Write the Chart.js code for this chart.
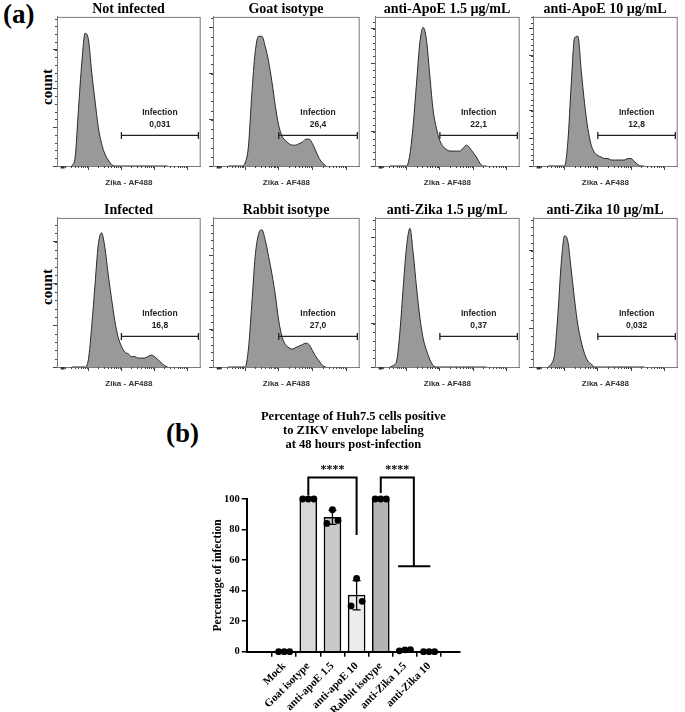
<!DOCTYPE html>
<html>
<head>
<meta charset="utf-8">
<script src="https://cdn.jsdelivr.net/npm/chart.js@4.4.1/dist/chart.umd.min.js"></script>
<style>
  body { margin: 0; background: #fff; width: 685px; height: 712px; position: relative; overflow: hidden; font-family: "Liberation Serif", serif; }
  canvas { position: absolute; }
  .lbl { position: absolute; font-weight: bold; color: #000; white-space: nowrap; line-height: 1; }
  .rot { transform: translate(-50%, -50%) rotate(-90deg); }
</style>
</head>
<body>
<div class="lbl" style="left:3px;top:1px;font-size:27px">(a)</div>
<div class="lbl" style="left:166px;top:420px;font-size:27px">(b)</div>
<div class="lbl rot" style="left:47px;top:87px;font-size:15px">count</div>
<div class="lbl rot" style="left:47px;top:287px;font-size:15px">count</div>

<script>
// ---- (a) flow cytometry histograms ----
// fluorescence (decades, biexponential axis) at which each histogram was read
const xGrid = [-0.5, -0.4, -0.3, -0.2, -0.1, 0, 0.1, 0.2, 0.3, 0.4, 0.5, 0.6, 0.7, 0.8, 0.9,
               1.0, 1.1, 1.2, 1.3, 1.4, 1.5, 1.6, 1.7, 1.8, 1.9, 2.0, 2.1, 2.2, 2.3, 2.4];

// counts, as % of the panel height
const notInfected   = [0, 6, 38, 69, 89, 85, 63, 44, 26, 15, 8, 4, 1, 0, 0, 0, 0, 0, 0, 0, 0, 0, 0, 0, 0, 0, 0, 0, 0, 0];
const goatIsotype   = [0, 0, 0, 0, 0, 2, 13, 48, 76, 87, 87, 80, 70, 56, 40, 27, 20, 17, 15, 14, 14, 15, 16, 18, 18, 15, 10, 5, 2, 0];
const antiApoE15    = [0, 0, 0, 0, 0, 0, 8, 28, 56, 83, 93, 84, 60, 37, 25, 17, 13, 11, 10, 10, 10, 10, 12, 14, 12, 9, 6, 2, 0, 0];
const antiApoE10    = [0, 0, 0, 0, 0, 0, 17, 55, 86, 87, 64, 42, 25, 14, 9, 7, 6, 5, 5, 4, 4, 4, 4, 4, 5, 5, 3, 1, 0, 0];
const infected      = [0, 0, 0, 0, 0, 5, 27, 55, 82, 90, 80, 62, 46, 31, 20, 14, 10, 9, 7, 7, 6, 6, 6, 7, 8, 7, 5, 3, 1, 0];
const rabbitIsotype = [0, 0, 0, 0, 0, 0, 12, 42, 74, 89, 92, 85, 74, 62, 48, 31, 20, 15, 13, 12, 13, 14, 15, 16, 15, 11, 7, 4, 1, 0];
const antiZika15    = [0, 1, 4, 24, 54, 81, 93, 76, 53, 33, 19, 11, 5, 1, 0, 0, 0, 0, 0, 0, 0, 0, 0, 0, 0, 0, 0, 0, 0, 0];
const antiZika10    = [0, 2, 9, 36, 70, 88, 84, 65, 45, 28, 17, 9, 4, 2, 0, 0, 0, 0, 0, 0, 0, 0, 0, 0, 0, 0, 0, 0, 0, 0];

const histSeries = [notInfected, goatIsotype, antiApoE15, antiApoE10, infected, rabbitIsotype, antiZika15, antiZika10];
const panelTitles = ['Not infected', 'Goat isotype', 'anti-ApoE 1.5 µg/mL', 'anti-ApoE 10 µg/mL',
                     'Infected', 'Rabbit isotype', 'anti-Zika 1.5 µg/mL', 'anti-Zika 10 µg/mL'];
const infectionValues = ['0,031', '26,4', '22,1', '12,8', '16,8', '27,0', '0,37', '0,032'];
const yMajorStep = [26, 31, 23, 18.5, 28, 25, 29, 26];
const xMajorTicks = [0, 1, 2, 3];
const gateRange = [1.0, 3.33];
const gateLevel = 20.5;

// ---- (b) bar chart ----
const categories = ['Mock', 'Goat isotype', 'anti-apoE 1.5', 'anti-apoE 10', 'Rabbit isotype', 'anti-Zika 1.5', 'anti-Zika 10'];
const barValues = [0, 100, 88, 37, 100, 1, 0];
const barSD = [0, 0, 4.6, 9.6, 0, 0.4, 0];
const replicates = [
  [0, 0, 0],
  [100, 100, 100],
  [84, 93, 86],
  [30, 48, 33],
  [100, 100, 100],
  [0.6, 1.2, 1.4],
  [0, 0, 0]
];
const replicateOffset = [-0.23, 0, 0.23];
const barColors = ['#d9d9d9', '#d9d9d9', '#c9c9c9', '#ececec', '#b4b4b4', '#d9d9d9', '#d9d9d9'];
const yTicksB = [0, 20, 40, 60, 80, 100];
const sigBrackets = [
  { from: 1, to: 3, top: 114, fromEnd: 102.5, toEnd: 76.5, label: '****' },
  { from: 4, to: 5.37, top: 114, fromEnd: 104, toEnd: 56, label: '****', base: [4.72, 6.05] }
];

const serif = '"Liberation Serif", "Times New Roman", serif';
const sans = '"Liberation Sans", Arial, sans-serif';

// small log ticks between decades
const xMinor = [];
for (let d = -1; d <= 2; d++) {
  for (let k = 2; k <= 9; k++) xMinor.push(d + Math.log10(k));
}

const histDecor = {
  id: 'histDecor',
  afterDraw(chart, args, opts) {
    const { ctx, chartArea: a, scales: { x, y } } = chart;
    ctx.save();
    ctx.strokeStyle = '#7a7a7a';
    ctx.lineWidth = 1;
    ctx.strokeRect(a.left + 0.5, a.top + 0.5, a.right - a.left - 1, a.bottom - a.top);
    ctx.strokeStyle = '#444';
    ctx.beginPath();
    const step = opts.step / 5;
    for (let v = step; v < 100; v += step) {
      const py = Math.round(y.getPixelForValue(v)) + 0.5;
      ctx.moveTo(a.left - 2, py);
      ctx.lineTo(a.left, py);
    }
    xMinor.forEach(v => {
      const px = Math.round(x.getPixelForValue(v)) + 0.5;
      ctx.moveTo(px, a.bottom);
      ctx.lineTo(px, a.bottom + 2);
    });
    ctx.stroke();
    // little block near the origin of the biexponential axis
    ctx.fillStyle = '#333';
    ctx.fillRect(x.getPixelForValue(-0.84), a.bottom, x.getPixelForValue(-0.72) - x.getPixelForValue(-0.84), 2.5);
    // gate label
    const cx = x.getPixelForValue((gateRange[0] + gateRange[1]) / 2);
    ctx.fillStyle = '#222';
    ctx.font = 'bold 8.5px ' + sans;
    ctx.textAlign = 'center';
    ctx.textBaseline = 'middle';
    ctx.fillText('Infection', cx, y.getPixelForValue(36));
    ctx.fillText(opts.value, cx, y.getPixelForValue(28));
    ctx.restore();
  }
};

const boxLeft = [57, 213, 375, 533];
const boxWidth = [147, 150, 148, 148];
const rowTop = [0, 201];

histSeries.forEach((series, i) => {
  const row = Math.floor(i / 4), col = i % 4;
  const cv = document.createElement('canvas');
  cv.width = boxWidth[col] + 8;
  cv.height = 190;
  cv.style.left = (boxLeft[col] - 6) + 'px';
  cv.style.top = rowTop[row] + 'px';
  document.body.appendChild(cv);

  new Chart(cv.getContext('2d'), {
    type: 'line',
    data: {
      datasets: [
        {
          data: [{ x: gateRange[0], y: gateLevel }, { x: gateRange[1], y: gateLevel }],
          borderColor: '#222',
          borderWidth: 1.3,
          pointStyle: 'line',
          rotation: 90,
          pointRadius: 3.5,
          pointBorderWidth: 1.3,
          pointBorderColor: '#222',
          fill: false
        },
        {
          data: xGrid.map((x, k) => ({ x, y: series[k] })),
          borderColor: '#2a2a2a',
          borderWidth: 1,
          backgroundColor: '#999999',
          fill: 'origin',
          pointRadius: 0,
          cubicInterpolationMode: 'monotone'
        }
      ]
    },
    options: {
      responsive: false,
      animation: false,
      layout: { padding: { left: 2, right: 2, top: 0, bottom: 0 } },
      plugins: {
        legend: { display: false },
        tooltip: { enabled: false },
        title: {
          display: true,
          text: panelTitles[i],
          color: '#000',
          font: { family: serif, size: 14, weight: 'bold', lineHeight: 1.1 },
          padding: { top: 1.5, bottom: 0 }
        },
        histDecor: { step: yMajorStep[i], value: infectionValues[i] }
      },
      scales: {
        x: {
          type: 'linear',
          min: -0.95,
          max: 3.4,
          afterBuildTicks: s => { s.ticks = xMajorTicks.map(v => ({ value: v })); },
          afterFit: s => { s.height = 24; },
          ticks: { display: false },
          grid: { drawOnChartArea: false, tickLength: 4, color: '#444' },
          border: { color: '#7a7a7a' },
          title: {
            display: true,
            text: 'Zika - AF488',
            color: '#333',
            font: { family: sans, size: 8, weight: 'bold', lineHeight: 1.2 },
            padding: { top: 8, bottom: 2 }
          }
        },
        y: {
          min: 0,
          max: 100,
          afterBuildTicks: s => {
            const t = [];
            for (let v = 0; v < 100; v += yMajorStep[i]) t.push({ value: v });
            s.ticks = t;
          },
          afterFit: s => { s.width = 4; },
          ticks: { display: false },
          grid: { drawOnChartArea: false, tickLength: 4, color: '#444' },
          border: { color: '#7a7a7a' }
        }
      }
    },
    plugins: [histDecor]
  });
});

// ---- (b) ----
const barDecor = {
  id: 'barDecor',
  afterDatasetDraw(chart, args) {
    if (args.index !== 1) return;
    const { ctx, scales: { x, y } } = chart;
    ctx.save();
    ctx.strokeStyle = '#000';
    ctx.lineWidth = 1.3;
    barValues.forEach((m, i) => {
      const sd = barSD[i];
      if (!sd) return;
      const px = x.getPixelForValue(i);
      const t = y.getPixelForValue(m + sd), b = y.getPixelForValue(m - sd);
      ctx.beginPath();
      ctx.moveTo(px, t); ctx.lineTo(px, b);
      ctx.moveTo(px - 4, t); ctx.lineTo(px + 4, t);
      ctx.moveTo(px - 4, b); ctx.lineTo(px + 4, b);
      ctx.stroke();
    });
    ctx.restore();
  },
  afterDraw(chart) {
    const { ctx, scales: { x, y } } = chart;
    ctx.save();
    ctx.strokeStyle = '#000';
    ctx.fillStyle = '#000';
    ctx.lineWidth = 2;
    sigBrackets.forEach(b => {
      const x1 = x.getPixelForValue(b.from), x2 = x.getPixelForValue(b.to);
      const yt = y.getPixelForValue(b.top);
      ctx.beginPath();
      ctx.moveTo(x1, y.getPixelForValue(b.fromEnd));
      ctx.lineTo(x1, yt);
      ctx.lineTo(x2, yt);
      ctx.lineTo(x2, y.getPixelForValue(b.toEnd));
      if (b.base) {
        const yb = y.getPixelForValue(b.toEnd);
        ctx.moveTo(x.getPixelForValue(b.base[0]), yb);
        ctx.lineTo(x.getPixelForValue(b.base[1]), yb);
      }
      ctx.stroke();
      ctx.font = 'bold 12px ' + serif;
      ctx.textAlign = 'center';
      ctx.textBaseline = 'middle';
      ctx.fillText(b.label, (x1 + x2) / 2, yt - 8);
    });
    ctx.restore();
  }
};

const cvb = document.createElement('canvas');
cvb.width = 290;
cvb.height = 317;
cvb.style.left = '180px';
cvb.style.top = '395px';
document.body.appendChild(cvb);

const dots = [];
replicates.forEach((r, i) => r.forEach((v, k) => dots.push({ x: i + replicateOffset[k], y: v })));

new Chart(cvb.getContext('2d'), {
  type: 'bar',
  data: {
    datasets: [
      {
        type: 'scatter',
        data: dots,
        clip: false,
        pointRadius: 3.4,
        pointBackgroundColor: '#000',
        pointBorderColor: '#000',
        pointBorderWidth: 0
      },
      {
        type: 'bar',
        data: barValues.map((v, i) => ({ x: i, y: v })),
        backgroundColor: barColors,
        borderColor: '#000',
        borderWidth: 1.5,
        borderSkipped: 'bottom',
        barThickness: 17
      }
    ]
  },
  options: {
    responsive: false,
    animation: false,
    layout: { padding: { left: 0, right: 10, top: 0, bottom: 0 } },
    plugins: {
      legend: { display: false },
      tooltip: { enabled: false },
      title: {
        display: true,
        fullSize: false,
        text: ['Percentage of Huh7.5 cells positive', 'to ZIKV envelope labeling', 'at 48 hours post-infection'],
        color: '#000',
        font: { family: serif, size: 12.5, weight: 'bold', lineHeight: 1.12 },
        padding: { top: 15, bottom: 47 }
      }
    },
    scales: {
      x: {
        type: 'linear',
        min: -0.92,
        max: 6.65,
        afterBuildTicks: s => { s.ticks = categories.map((c, i) => ({ value: i })); },
        afterFit: s => { s.height = 60.3; },
        ticks: {
          callback: v => categories[v],
          color: '#000',
          font: { family: serif, size: 11, weight: 'bold' },
          minRotation: 45,
          maxRotation: 45,
          padding: 3
        },
        grid: { drawOnChartArea: false, tickLength: 5, color: '#000', lineWidth: 1.5 },
        border: { color: '#000', width: 2 }
      },
      y: {
        min: 0,
        max: 100,
        afterBuildTicks: s => { s.ticks = yTicksB.map(v => ({ value: v })); },
        afterFit: s => { s.width = 66.7; },
        ticks: {
          color: '#000',
          font: { family: serif, size: 10.5, weight: 'bold' },
          padding: 2
        },
        grid: { drawOnChartArea: false, tickLength: 5, color: '#000', lineWidth: 1.5 },
        border: { color: '#000', width: 2 },
        title: {
          display: true,
          text: 'Percentage of infection',
          color: '#000',
          font: { family: serif, size: 11.5, weight: 'bold', lineHeight: 1.2 },
          padding: { top: 31, bottom: 0 }
        }
      }
    }
  },
  plugins: [barDecor]
});
</script>
</body>
</html>
